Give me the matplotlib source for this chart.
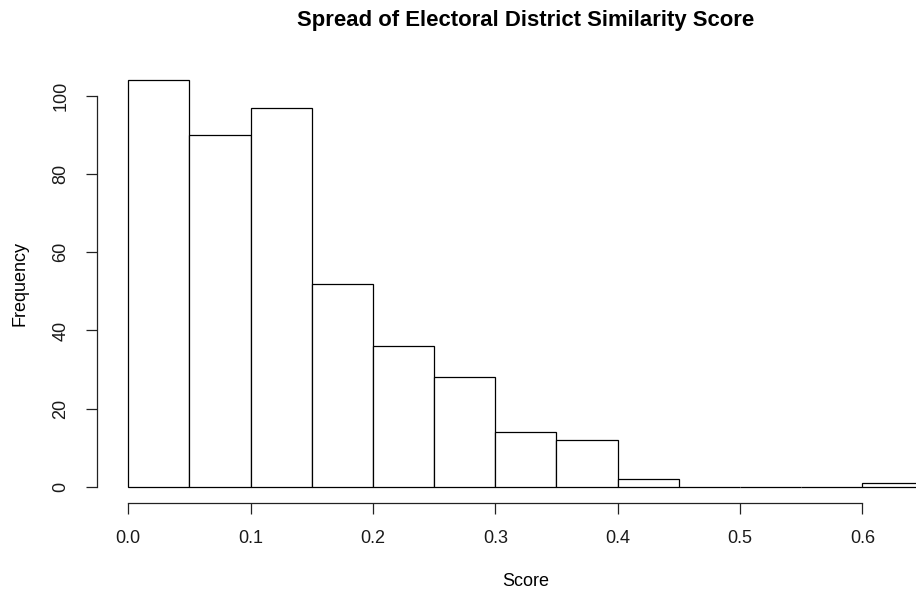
import numpy as np
import matplotlib
matplotlib.use("Agg")
import matplotlib.pyplot as plt

plt.rcParams['font.family'] = ['Liberation Sans', 'DejaVu Sans']

bin_edges = [0.0, 0.05, 0.10, 0.15, 0.20, 0.25, 0.30, 0.35, 0.40, 0.45, 0.50, 0.55, 0.60, 0.65]
counts = [104, 90, 97, 52, 36, 28, 14, 12, 2, 0, 0, 0, 1]
x_ticks = [0.0, 0.1, 0.2, 0.3, 0.4, 0.5, 0.6]
x_tick_labels = ["0.0", "0.1", "0.2", "0.3", "0.4", "0.5", "0.6"]
y_ticks = [0, 20, 40, 60, 80, 100]
y_tick_labels = ["0", "20", "40", "60", "80", "100"]
title = "Spread of Electoral District Similarity Score"
x_label = "Score"
y_label = "Frequency"

W, H = 916, 596
fig = plt.figure(figsize=(W / 100, H / 100), dpi=100)

left, right = 96.5, 955.3
top, bottom = 64.1, 503.0
ax = fig.add_axes([left / W, (H - bottom) / H, (right - left) / W, (bottom - top) / H])

edges = np.array(bin_edges)
ax.bar(edges[:-1], counts, width=np.diff(edges), align='edge',
       facecolor='white', edgecolor='black', linewidth=0.9)

xmin, xmax = edges[0], edges[-1]
xr = xmax - xmin
ax.set_xlim(xmin - 0.04 * xr, xmax + 0.04 * xr)
ymax = max(counts)
ax.set_ylim(-0.04 * ymax, ymax * 1.04)

for s in ['top', 'right']:
    ax.spines[s].set_visible(False)
ax.spines['left'].set_bounds(y_ticks[0], y_ticks[-1])
ax.spines['bottom'].set_bounds(x_ticks[0], x_ticks[-1])
for s in ['left', 'bottom']:
    ax.spines[s].set_linewidth(0.9)
    ax.spines[s].set_color('#222222')

ax.set_xticks(x_ticks)
ax.set_xticklabels(x_tick_labels)
ax.set_yticks(y_ticks)
ax.set_yticklabels(y_tick_labels, rotation=90, va='center')
ax.tick_params(axis='both', length=8, width=0.9, color='#222222',
               labelsize=13, pad=11.5, labelcolor='#1a1a1a')

fig.text(525.5 / W, 1 - 20.5 / H, title, ha='center', va='center',
         fontsize=15.9, fontweight='bold')
fig.text(526 / W, 1 - 581 / H, x_label, ha='center', va='center', fontsize=13)
fig.text(20 / W, 1 - 283.5 / H, y_label, ha='center', va='center',
         fontsize=13, rotation=90)

fig.savefig("out.png", dpi=100)
